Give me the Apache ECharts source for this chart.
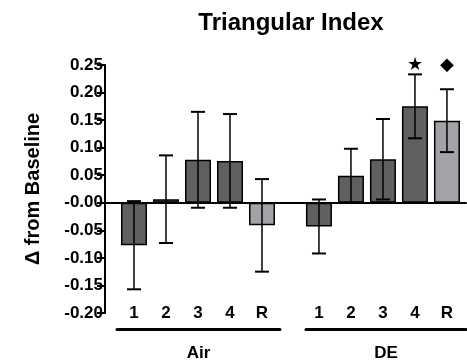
<!DOCTYPE html>
<html><head><meta charset="utf-8">
<script src="https://cdn.jsdelivr.net/npm/echarts@6/dist/echarts.min.js"></script>
<style>html,body{margin:0;padding:0;background:#fff}#c{width:467px;height:364px}</style>
</head><body><div id="c"></div>
<script>
// ---- data ----
const categories = ['1', '2', '3', '4', 'R'];
const groups = ['Air', 'DE'];
const airMean = [-0.077, 0.0065, 0.078, 0.076, -0.041];
const airErr  = [0.080, 0.0795, 0.087, 0.085, 0.084];
const deMean  = [-0.043, 0.049, 0.079, 0.175, 0.149];
const deErr   = [0.049, 0.049, 0.073, 0.058, 0.057];
const airMarks = ['', '', '', '', ''];
const deMarks  = ['', '', '', '\u2605', '\u25C6'];
const title = 'Triangular Index';
const yName = '\u0394 from Baseline';

// ---- layout ----
const groupShift = 5.78;
const FONT = '"Liberation Sans", Arial, sans-serif';
const dark = '#606060', light = '#a3a3a7';

const means = [airMean, deMean], errs = [airErr, deErr], marks = [airMarks, deMarks];
const barData = [], errData = [], markTexts = [], labelPos = [], labelText = [];
groups.forEach((g, gi) => {
  categories.forEach((c, i) => {
    const x = i + gi * groupShift;
    labelPos.push(x); labelText.push(c);
    barData.push({ value: [x, means[gi][i]], itemStyle: { color: c === 'R' ? light : dark } });
    errData.push([x, means[gi][i], errs[gi][i]]);
    markTexts.push(marks[gi][i]);
  });
});

const chart = echarts.init(document.getElementById('c'), null, { renderer: 'canvas' });
const xMin = -0.906, xMax = 10.375;
chart.setOption({
  animation: false,
  title: { text: title, left: 286, textAlign: 'center', top: 6,
    textStyle: { fontFamily: FONT, fontWeight: 'bold', fontSize: 24, color: '#000' } },
  grid: [
    { left: 105, right: 1, top: 65, bottom: 51 },
    { left: 117, width: 163, top: 320, height: 9 },
    { left: 306, width: 160, top: 320, height: 9 }
  ],
  xAxis: [
    { gridIndex: 0, type: 'value', min: xMin, max: xMax, position: 'bottom',
      axisLine: { show: false, onZero: false }, axisTick: { show: false }, splitLine: { show: false },
      axisLabel: { customValues: labelPos, margin: 0, verticalAlign: 'middle',
        fontFamily: FONT, fontWeight: 'bold', fontSize: 17, color: '#000',
        formatter: v => { let k = 0, d = 1e9; labelPos.forEach((p, j) => { if (Math.abs(p - v) < d) { d = Math.abs(p - v); k = j; } }); return labelText[k]; } } },
    { gridIndex: 0, type: 'value', min: xMin, max: xMax, position: 'top',
      axisLine: { show: true, onZero: true, lineStyle: { color: '#000', width: 2 } },
      axisTick: { show: false }, axisLabel: { show: false }, splitLine: { show: false } },
    { gridIndex: 1, type: 'category', data: [''], position: 'bottom', name: groups[0], nameLocation: 'middle', nameGap: 16,
      nameTextStyle: { fontFamily: FONT, fontWeight: 'bold', fontSize: 17, color: '#000' },
      axisLine: { show: true, lineStyle: { color: '#000', width: 3 } }, axisTick: { show: false }, axisLabel: { show: false } },
    { gridIndex: 2, type: 'category', data: [''], position: 'bottom', name: groups[1], nameLocation: 'middle', nameGap: 16,
      nameTextStyle: { fontFamily: FONT, fontWeight: 'bold', fontSize: 17, color: '#000' },
      axisLine: { show: true, lineStyle: { color: '#000', width: 3 } }, axisTick: { show: false }, axisLabel: { show: false } }
  ],
  yAxis: [
    { gridIndex: 0, type: 'value', min: -0.2, max: 0.25, interval: 0.05,
      name: yName, nameLocation: 'middle', nameRotate: 90, nameGap: 62,
      nameTextStyle: { fontFamily: FONT, fontWeight: 'bold', fontSize: 20, color: '#000' },
      axisLine: { show: true, onZero: false, lineStyle: { color: '#000', width: 2 } },
      axisTick: { show: true, length: 8, lineStyle: { color: '#000', width: 2 } },
      splitLine: { show: false },
      axisLabel: { margin: 2, fontFamily: FONT, fontWeight: 'bold', fontSize: 17, color: '#000',
        formatter: v => Math.abs(v) < 1e-9 ? '-0.00' : v.toFixed(2) } },
    { gridIndex: 1, type: 'value', show: false },
    { gridIndex: 2, type: 'value', show: false }
  ],
  series: [
    { type: 'bar', xAxisIndex: 0, yAxisIndex: 0, barWidth: 26, data: barData, z: 2,
      itemStyle: { borderColor: '#000', borderWidth: 1.5 } },
    { type: 'custom', xAxisIndex: 0, yAxisIndex: 0, z: 5, data: errData,
      renderItem: (params, api) => {
        const x = api.value(0), m = api.value(1), e = api.value(2);
        const top = api.coord([x, m + e]), bot = api.coord([x, m - e]);
        const hw = 7;
        const st = { stroke: '#000', lineWidth: 1.5 };
        const children = [
          { type: 'line', shape: { x1: top[0], y1: top[1], x2: bot[0], y2: bot[1] }, style: st },
          { type: 'line', shape: { x1: top[0] - hw, y1: top[1], x2: top[0] + hw, y2: top[1] }, style: { stroke: '#000', lineWidth: 2 } },
          { type: 'line', shape: { x1: bot[0] - hw, y1: bot[1], x2: bot[0] + hw, y2: bot[1] }, style: { stroke: '#000', lineWidth: 2 } }
        ];
        const mk = markTexts[params.dataIndex];
        if (mk) {
          const p = api.coord([x, 0.25]);
          children.push({ type: 'text', style: { text: mk, x: p[0], y: p[1], align: 'center', verticalAlign: 'middle',
            font: '18px "DejaVu Sans"', fill: '#000' } });
        }
        return { type: 'group', children };
      } }
  ]
});
</script></body></html>
